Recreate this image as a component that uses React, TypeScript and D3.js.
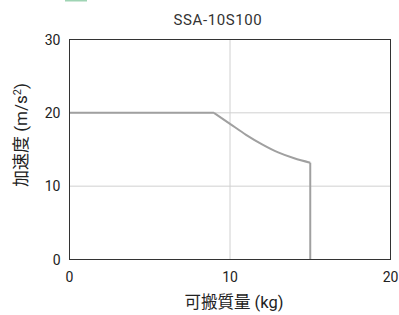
import React from 'react'
import * as d3 from 'd3'

const title = 'SSA-10S100'
const xTicks = [0, 10, 20]
const yTicks = [0, 10, 20, 30]
// payload (kg) vs acceleration (m/s2)
const mass = [0, 9, 10, 11, 12, 13, 14, 15]
const accel = [20, 20, 18.5, 17, 15.7, 14.6, 13.8, 13.2]
const dropTo = 0

const W = 399
const H = 315
const [top, right, bottom, left] = [39.5, 8.5, 55.5, 69.5]

export default function App() {
  const x = d3.scaleLinear().domain([0, 20]).range([left, W - right])
  const y = d3.scaleLinear().domain([0, 30]).range([H - bottom, top])
  const flat: [number, number][] = [[mass[0], accel[0]], [mass[1], accel[1]]]
  const curved: [number, number][] = mass.slice(1).map((m, i) => [m, accel[i + 1]])
  const last = mass.length - 1
  const drop: [number, number][] = [[mass[last], accel[last]], [mass[last], dropTo]]
  const lin = d3.line<[number, number]>().x(d => x(d[0])).y(d => y(d[1]))
  const smooth = d3.line<[number, number]>().x(d => x(d[0])).y(d => y(d[1])).curve(d3.curveMonotoneX)
  const font = "Roboto, 'Noto Sans CJK JP', sans-serif"

  return (
    <svg width={W} height={H} style={{ position: 'absolute', left: 0, top: 0, background: '#fff' }}>
      {/* header, cut off at top edge */}
      <text x={0} y={-1.8} fontSize={14} fill='#2a9d5c' fontFamily={font} fontWeight='bold'>仕様 グラフ</text>
      <rect x={65} y={0} width={22} height={1.5} fill='#9fd4b4' />

      <text x={218} y={25} textAnchor='middle' fontSize={15} fill='#333' fontFamily={font} letterSpacing={0.6}>{title}</text>

      {xTicks.slice(1, -1).map(t => (
        <line key={'gx' + t} x1={x(t)} x2={x(t)} y1={y(30)} y2={y(0)} stroke='#d0d0d0' strokeWidth={1} />
      ))}
      {yTicks.slice(1, -1).map(t => (
        <line key={'gy' + t} x1={x(0)} x2={x(20)} y1={y(t)} y2={y(t)} stroke='#d0d0d0' strokeWidth={1} />
      ))}

      <path d={lin(flat) || ''} fill='none' stroke='#a0a0a0' strokeWidth={2} />
      <path d={smooth(curved) || ''} fill='none' stroke='#a0a0a0' strokeWidth={2} />
      <path d={lin(drop) || ''} fill='none' stroke='#a0a0a0' strokeWidth={2} />

      <rect x={x(0)} y={y(30)} width={x(20) - x(0)} height={y(0) - y(30)} fill='none' stroke='#333' strokeWidth={1} />

      {yTicks.map(t => (
        <text key={'ty' + t} x={x(0) - 9} y={y(t) + 5} textAnchor='end' fontSize={14} fill='#222' fontFamily={font}>{t}</text>
      ))}
      {xTicks.map(t => (
        <text key={'tx' + t} x={x(t)} y={282} textAnchor='middle' fontSize={14} fill='#222' fontFamily={font}>{t}</text>
      ))}

      <text x={234} y={308} textAnchor='middle' fontSize={16.5} fill='#222' fontFamily={font}>可搬質量 (kg)</text>
      <text transform={`translate(27,135) rotate(-90)`} textAnchor='middle' fontSize={17} fill='#222' fontFamily={font}>
        加速度 (m/s<tspan dy={-6} fontSize={11}>2</tspan><tspan dy={6}>)</tspan>
      </text>
    </svg>
  )
}
